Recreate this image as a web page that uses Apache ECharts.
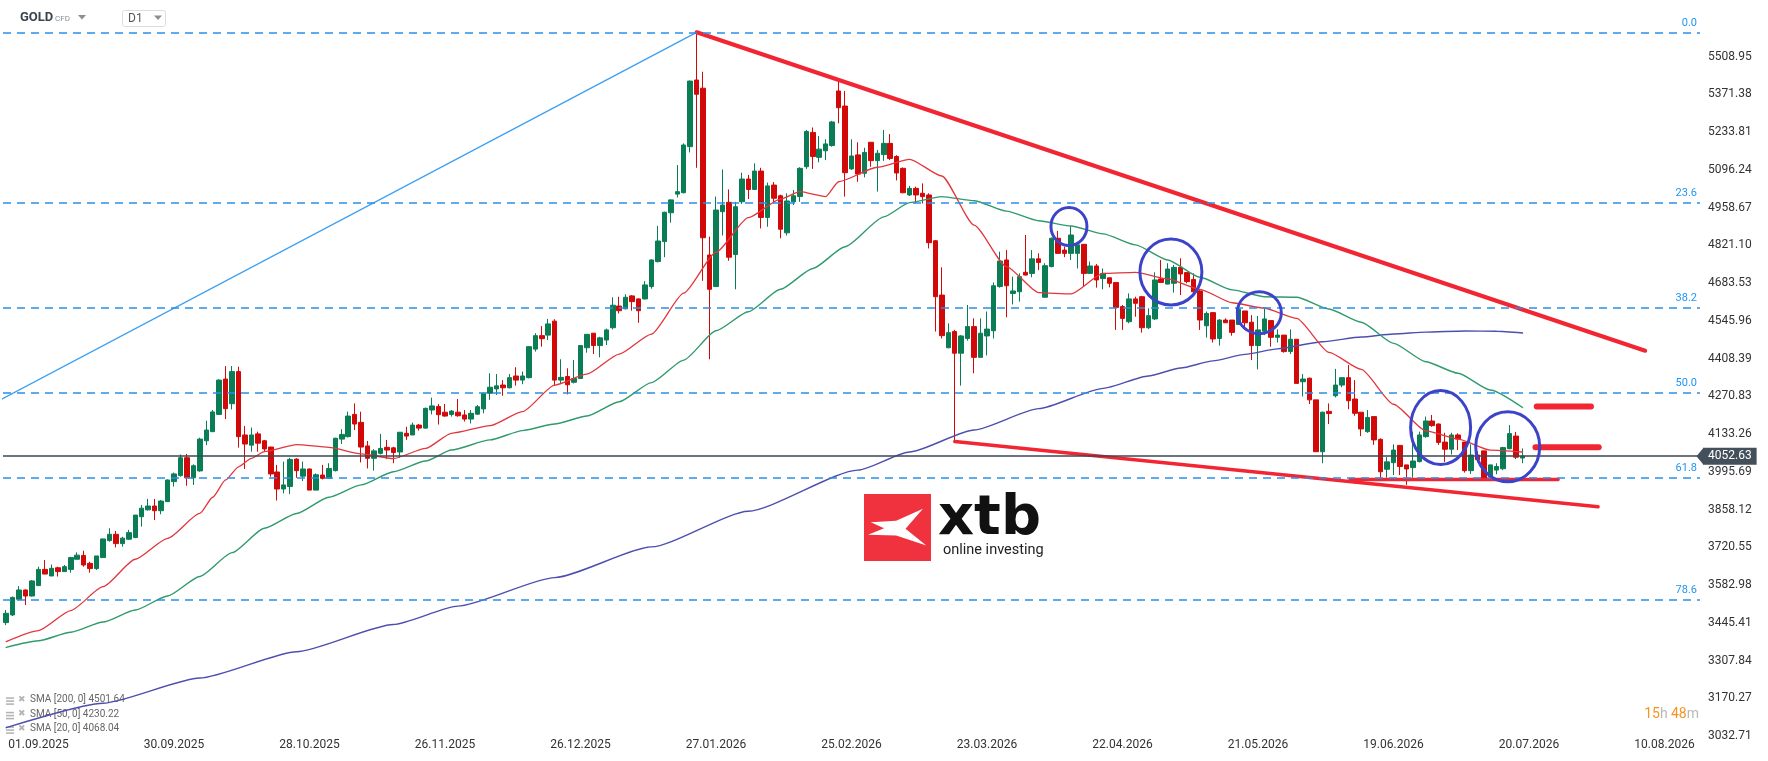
<!DOCTYPE html>
<html>
<head>
<meta charset="utf-8">
<script src="https://cdn.jsdelivr.net/npm/echarts@6/dist/echarts.min.js"></script>
<style>
  html, body { margin: 0; padding: 0; background: #fff; }
  #main { width: 1768px; height: 761px; }
</style>
</head>
<body>
<div id="main"></div>
<script>
// --- data (daily candles, oldest first) ---
const opens = [3446,3474,3531,3565,3543,3581,3640,3616,3646,3632,3640,3677,3691,3662,3643,3683,3745,3768,3734,3750,
3756,3832,3857,3871,3854,3887,3960,3982,4047,3974,3999,4109,4142,4205,4334,4244,4361,4130,4093,4134,
4109,4086,3995,3933,3942,4042,3980,4006,3929,3984,3972,4000,4115,4124,4205,4176,4090,4045,4063,4085,
4083,4068,4136,4130,4166,4155,4221,4234,4213,4205,4213,4203,4188,4206,4225,4282,4298,4312,4302,4345,
4330,4339,4443,4492,4494,4545,4330,4343,4322,4336,4448,4501,4456,4476,4521,4600,4590,4637,4626,4626,
4671,4762,4835,4940,5008,5013,5181,5424,5394,4786,4671,4944,4978,4788,4980,5063,5025,5092,4923,5041,
5002,4867,4980,4999,5108,5233,5142,5166,5185,5384,5329,5100,5151,5084,5197,5130,5152,5193,5145,5102,
5005,5029,5011,5005,4838,4640,4448,4507,4428,4482,4525,4413,4491,4510,4671,4768,4646,4652,4723,4719,
4772,4632,4744,4847,4804,4792,4792,4825,4719,4746,4700,4703,4686,4598,4543,4626,4634,4521,4553,4699,
4680,4683,4741,4722,4697,4655,4528,4576,4482,4549,4549,4533,4582,4541,4456,4508,4547,4486,4494,4434,
4479,4324,4337,4258,4069,4216,4273,4312,4339,4261,4213,4142,4197,4114,4005,4029,4092,4021,4011,4033,
4124,4181,4170,4104,4078,4130,4104,4000,4057,4072,3978,4002,4007,4080,4126,4046];
const closes = [3480,3538,3565,3543,3598,3640,3623,3644,3632,3650,3683,3692,3656,3643,3689,3751,3768,3734,3754,3774,
3838,3863,3871,3854,3889,3966,3988,4047,3974,4018,4115,4148,4214,4330,4226,4361,4124,4097,4130,4100,
4079,3988,3933,3948,4041,4000,4006,3929,3985,3972,4008,4118,4132,4199,4170,4086,4045,4072,4081,4075,
4066,4140,4126,4166,4155,4227,4236,4204,4199,4217,4200,4188,4209,4233,4282,4304,4309,4302,4339,4330,
4345,4452,4492,4481,4535,4330,4340,4313,4336,4456,4497,4456,4484,4513,4603,4583,4632,4616,4583,4677,
4768,4837,4942,4987,5017,5187,5420,5372,4849,4661,4950,4968,4778,4962,5063,5025,5092,4923,5038,4993,
4880,4983,5002,5102,5236,5145,5172,5191,5271,5323,5086,5147,5081,5160,5130,5157,5193,5138,5085,5013,
5029,5005,4999,4831,4634,4492,4503,4428,4491,4525,4413,4501,4516,4674,4764,4674,4655,4707,4713,4772,
4759,4747,4847,4792,4792,4859,4823,4719,4746,4695,4719,4683,4595,4555,4626,4610,4521,4565,4695,4686,
4735,4741,4717,4689,4652,4549,4573,4480,4549,4539,4504,4588,4539,4456,4513,4553,4486,4494,4434,4479,
4318,4334,4258,4069,4213,4208,4312,4339,4255,4209,4152,4194,4112,3996,4032,4075,4015,4006,4035,4130,
4181,4164,4103,4078,4130,4115,4000,4057,4040,3971,4021,4015,4084,4135,4049,4052.63];
const lows = [3437,3470,3528,3510,3541,3579,3623,3616,3614,3632,3628,3677,3650,3628,3638,3682,3741,3720,3723,3747,
3754,3796,3854,3820,3841,3886,3942,3978,3945,3948,3996,4093,4142,4203,4188,4223,4084,4006,4069,4069,
4069,3978,3891,3917,3915,3974,3962,3929,3929,3968,3970,3997,4097,4121,4148,4030,4008,4000,4059,4042,
4027,4047,4112,4130,4146,4152,4205,4168,4197,4197,4197,4179,4172,4203,4209,4258,4276,4273,4300,4310,
4315,4336,4434,4452,4476,4309,4318,4278,4318,4336,4430,4425,4413,4458,4515,4573,4588,4583,4539,4624,
4663,4759,4778,4904,4996,5011,5160,5104,4692,4406,4671,4857,4765,4661,4972,4990,5023,4883,4889,4974,
4847,4857,4968,4980,5100,5100,5124,5132,5181,5266,4999,5096,5053,5069,5108,5017,5129,5132,5058,5011,
5001,4974,4974,4810,4507,4482,4446,4106,4310,4474,4355,4413,4420,4482,4667,4559,4606,4616,4711,4705,
4731,4631,4741,4790,4778,4768,4737,4671,4717,4667,4661,4668,4513,4513,4537,4561,4503,4516,4549,4686,
4679,4649,4640,4683,4649,4513,4485,4467,4456,4539,4492,4531,4513,4403,4369,4494,4452,4467,4430,4425,
4318,4270,4243,4069,4027,4170,4267,4304,4224,4200,4126,4138,4094,3962,3974,3984,3984,3948,3974,4030,
4120,4160,4094,4032,4059,4075,3993,3988,4030,3971,3974,3987,4002,4078,4042,4027];
const highs = [3492,3541,3579,3567,3601,3650,3674,3658,3650,3656,3686,3702,3708,3668,3689,3752,3790,3780,3759,3784,
3838,3875,3897,3897,3893,3968,3993,4059,4061,4023,4120,4182,4221,4333,4381,4381,4379,4163,4157,4142,
4112,4087,4021,4033,4047,4045,4033,4008,3990,4021,4027,4120,4151,4215,4245,4215,4108,4078,4134,4112,
4087,4141,4160,4175,4170,4230,4266,4243,4243,4221,4261,4221,4221,4239,4284,4355,4352,4330,4352,4377,
4361,4454,4501,4527,4553,4552,4406,4373,4403,4458,4498,4501,4488,4518,4632,4634,4643,4640,4628,4691,
4770,4892,4944,4989,5114,5193,5422,5598,5454,4853,4999,5098,5025,4980,5086,5078,5120,5104,5050,5052,
5006,5011,5023,5106,5242,5251,5220,5208,5275,5418,5384,5208,5197,5177,5197,5169,5242,5227,5150,5105,
5038,5035,5047,5011,4841,4741,4537,4513,4494,4604,4555,4555,4580,4686,4798,4804,4707,4719,4859,4804,
4792,4756,4850,4874,4816,4892,4825,4825,4762,4753,4737,4703,4686,4604,4646,4634,4637,4592,4723,4768,
4756,4750,4774,4722,4719,4659,4580,4577,4552,4555,4549,4589,4582,4567,4564,4594,4547,4515,4494,4515,
4479,4352,4339,4258,4215,4245,4371,4339,4385,4330,4213,4221,4197,4118,4049,4096,4092,4021,4142,4142,
4197,4203,4172,4138,4138,4136,4104,4096,4070,4072,4021,4027,4087,4166,4141,4081];

// moving averages, read as [bar index, value]
const sma20 = [[0,3377],[5,3417],[10,3490],[15,3577],[20,3677],[25,3753],[30,3844],[32,3903],[34,3966],[36,4014],
[38,4045],[40,4069],[45,4095],[50,4085],[55,4061],[60,4044],[65,4081],[69,4136],[75,4164],[80,4215],[85,4312],
[90,4352],[95,4425],[100,4498],[105,4647],[110,4796],[115,4922],[120,4990],[123,5017],[127,4999],[129,5053],
[135,5106],[140,5135],[145,5074],[150,4895],[155,4744],[160,4649],[165,4644],[170,4719],[175,4723],[180,4699],
[185,4661],[190,4612],[195,4592],[200,4555],[205,4431],[210,4369],[215,4242],[220,4145],[225,4115],[230,4075],[235,4068]];
const sma50 = [[0,3356],[5,3380],[10,3411],[15,3448],[20,3492],[25,3543],[30,3614],[35,3701],[40,3790],[45,3844],
[50,3903],[55,3948],[60,3996],[65,4035],[69,4075],[75,4112],[80,4146],[85,4170],[90,4199],[95,4251],[100,4321],
[105,4403],[110,4510],[115,4579],[120,4661],[125,4737],[130,4816],[136,4925],[140,4977],[145,4999],[150,4984],
[155,4946],[160,4911],[165,4892],[170,4863],[175,4823],[180,4768],[185,4705],[190,4659],[195,4634],[200,4632],
[205,4589],[210,4541],[215,4464],[220,4397],[225,4355],[230,4294],[235,4230]];
const sma200 = [[0,3063],[15,3152],[30,3244],[45,3340],[60,3439],[70,3506],[85,3610],[100,3722],[115,3852],[132,4002],
[140,4068],[150,4148],[160,4226],[170,4300],[177,4345],[182,4374],[187,4400],[192,4424],[197,4444],[204,4470],
[210,4487],[215,4498],[220,4505],[226,4509],[231,4508],[235,4502]];

// drawn annotations, [bar index, price]
const fibRay = [[-0.965,4257.5],[107,5598]];
const downTrend = [[107,5598],[254,4437]];
const lowTrend = [[147,4106],[246.7,3868]];
const supportLine = [[208.3,3968],[240.5,3968]];
const markUpper = [[237.2,4234],[245.6,4234]];
const markLower = [[237.0,4085],[246.8,4085]];
const circles = [[164.7,4890,18,19],[180.5,4724,31,33],[194.2,4576,22,21],[222.3,4157,30,37],[232.7,4087,32,35]];

const fibLevels = ['0.0','23.6','38.2','50.0','61.8','78.6'];
const fibPrices = [5598,4977,4593,4283,3973,3531];
const lastPrice = 4052.63;

const yTickLabels = ['3032.71','3170.27','3307.84','3445.41','3582.98','3720.55','3858.12','3995.69','4133.26','4270.83',
'4408.39','4545.96','4683.53','4821.10','4958.67','5096.24','5233.81','5371.38','5508.95'];
const xTickLabels = ['01.09.2025','30.09.2025','28.10.2025','26.11.2025','26.12.2025','27.01.2026','25.02.2026',
'23.03.2026','22.04.2026','21.05.2026','19.06.2026','20.07.2026','10.08.2026'];
const xTickFirst = 5, xTickEvery = 21;
const slots = 263;

const legendRows = ['SMA [200, 0] 4501.64', 'SMA [50, 0] 4230.22', 'SMA [20, 0] 4068.04'];

const GREEN = '#0b7d55', RED = '#d10909', TREND = '#f22633', FIB = '#2b8fe8';
const FONT = 'Roboto, sans-serif';

const cats = Array.from({length: slots}, (_, i) => String(i));
const candles = opens.map((o, i) => [o, closes[i], lows[i], highs[i]]);

function yLabel(v) {
  const hit = yTickLabels.find(t => Math.abs(parseFloat(t) - v) < 1);
  return hit || '';
}
function isTick(i) { return i >= xTickFirst && (i - xTickFirst) % xTickEvery === 0; }

function segment(data, color, width, extra) {
  return Object.assign({
    type: 'line', xAxisIndex: 1, yAxisIndex: 0, data: data, symbol: 'none',
    lineStyle: {color: color, width: width, cap: 'round'}, silent: true
  }, extra || {});
}

const option = {
  backgroundColor: '#ffffff',
  animation: false,
  grid: {left: 3, right: 68, top: 0, bottom: 25, containLabel: false},
  xAxis: [
    {
      type: 'category', data: cats, boundaryGap: true,
      axisLine: {show: false}, axisTick: {show: false}, splitLine: {show: false},
      axisLabel: {
        interval: (i) => isTick(i),
        formatter: (v, i) => isTick(i) ? (xTickLabels[(i - xTickFirst) / xTickEvery] || '') : '',
        color: '#333', fontSize: 12, fontFamily: FONT, margin: 3
      }
    },
    {type: 'value', min: -0.5, max: slots - 0.5, show: false}
  ],
  yAxis: {
    type: 'value', position: 'right', min: 3032.71, max: 5715.6, interval: 137.5689,
    axisLine: {show: false}, axisTick: {show: false}, splitLine: {show: false},
    axisLabel: {formatter: yLabel, color: '#333', fontSize: 12, fontFamily: FONT, margin: 8}
  },
  series: [
    {
      type: 'candlestick', xAxisIndex: 0, yAxisIndex: 0, data: candles, barWidth: 5,
      itemStyle: {color: GREEN, color0: RED, borderColor: GREEN, borderColor0: RED, borderWidth: 1},
      silent: true,
      markLine: {
        symbol: 'none', silent: true, animation: false,
        data: fibPrices.map((p, i) => ({
          yAxis: p, name: fibLevels[i],
          lineStyle: {type: [8, 6], color: FIB, width: 1.5},
          label: {show: true, position: 'insideEndTop', formatter: '{b}', color: '#2196f3',
                  fontSize: 11, fontFamily: FONT, distance: [3, 4]}
        })).concat([{
          yAxis: lastPrice, name: 'last',
          lineStyle: {type: 'solid', color: '#3b4752', width: 1.5},
          label: {show: true, position: 'end', formatter: lastPrice.toFixed(2), color: '#fff',
                  backgroundColor: '#434f5a', padding: [3, 5, 2, 5], fontSize: 12, fontFamily: FONT, distance: 3}
        }])
      }
    },
    segment(sma200, '#4b4fae', 1.4, {smooth: 0.2, smoothMonotone: 'x'}),
    segment(sma50, '#2f9a6c', 1.4, {smooth: 0.2, smoothMonotone: 'x'}),
    segment(sma20, '#e2363d', 1.3, {smooth: 0.2, smoothMonotone: 'x'}),
    segment(fibRay, '#3ea0f2', 1.4, {clip: false}),
    segment(downTrend, TREND, 4),
    segment(lowTrend, TREND, 3.5),
    segment(supportLine, TREND, 3.5),
    segment(markUpper, TREND, 6),
    segment(markLower, TREND, 6)
  ]
};

const chart = echarts.init(document.getElementById('main'));
chart.setOption(option);

const px = (v, p) => chart.convertToPixel({xAxisIndex: 1, yAxisIndex: 0}, [v, p]);
const g = [];

// header
g.push({type: 'text', left: 20, top: 11, style: {text: 'GOLD', fill: '#3a4550', font: 'bold 13px ' + FONT}});
g.push({type: 'text', left: 55, top: 15, style: {text: 'CFD', fill: '#8a8f94', font: '8px ' + FONT}});
g.push({type: 'polygon', shape: {points: [[78, 15], [86, 15], [82, 19.5]]}, style: {fill: '#8a8f94'}});
g.push({type: 'rect', shape: {x: 122.5, y: 10.5, width: 43, height: 16, r: 2}, style: {fill: '#fff', stroke: '#dcdcdc', lineWidth: 1}});
g.push({type: 'text', left: 128, top: 13, style: {text: 'D1', fill: '#555', font: '12px ' + FONT}});
g.push({type: 'polygon', shape: {points: [[154, 15.5], [162, 15.5], [158, 20]]}, style: {fill: '#8a8f94'}});

// logo
const lx = 864, ly = 494, ls = 67;
g.push({type: 'rect', z: -1, shape: {x: lx, y: ly, width: ls, height: ls}, style: {fill: '#f0313e'}});
const wing = [[0.10,0.42],[0.48,0.40],[0.88,0.22],[0.62,0.52],[0.93,0.77],[0.48,0.62],[0.06,0.61],[0.30,0.51]];
g.push({type: 'polygon', z: -1, shape: {points: wing.map(p => [lx + p[0] * ls, ly + p[1] * ls])}, style: {fill: '#fff'}});
g.push({type: 'text', z: -1, left: 938, top: 491, style: {text: 'xtb', fill: '#111', font: 'bold 56px "DejaVu Sans"'}});
g.push({type: 'text', z: -1, left: 943, top: 543, style: {text: 'online investing', fill: '#222', font: '14.5px ' + FONT}});

// legend rows
legendRows.forEach((row, i) => {
  const cy = 701 + i * 14.5;
  [-3, 0, 3].forEach(d => g.push({type: 'rect', shape: {x: 6, y: cy + d - 0.7, width: 8, height: 1.6}, style: {fill: '#b5b5b5'}}));
  g.push({type: 'text', left: 18, top: cy - 6, style: {text: '\u2716', fill: '#b5b5b5', font: '9px "DejaVu Sans"'}});
  g.push({type: 'text', left: 30, top: cy - 6.5, style: {text: row, fill: '#666', font: '10px ' + FONT}});
});

// candle timer
g.push({type: 'text', right: 69, top: 707, style: {
  rich: {o: {fill: '#f7931e', font: '14px ' + FONT}, gr: {fill: '#b8b8b8', font: '14px ' + FONT}},
  text: '{o|15}{gr|h} {o|48}{gr|m}'
}});

// circles
circles.forEach(c => {
  const p = px(c[0], c[1]);
  g.push({type: 'ellipse', shape: {cx: p[0], cy: p[1], rx: c[2], ry: c[3]}, style: {fill: 'none', stroke: '#3d43c9', lineWidth: 3}, z: 50});
});

// price tag pointer
const tagY = px(0, lastPrice)[1];
g.push({type: 'polygon', z: 60, shape: {points: [[1696.5, tagY], [1703.5, tagY - 8.5], [1703.5, tagY + 8.5]]}, style: {fill: '#434f5a'}});

chart.setOption({graphic: g});
</script>
</body>
</html>
